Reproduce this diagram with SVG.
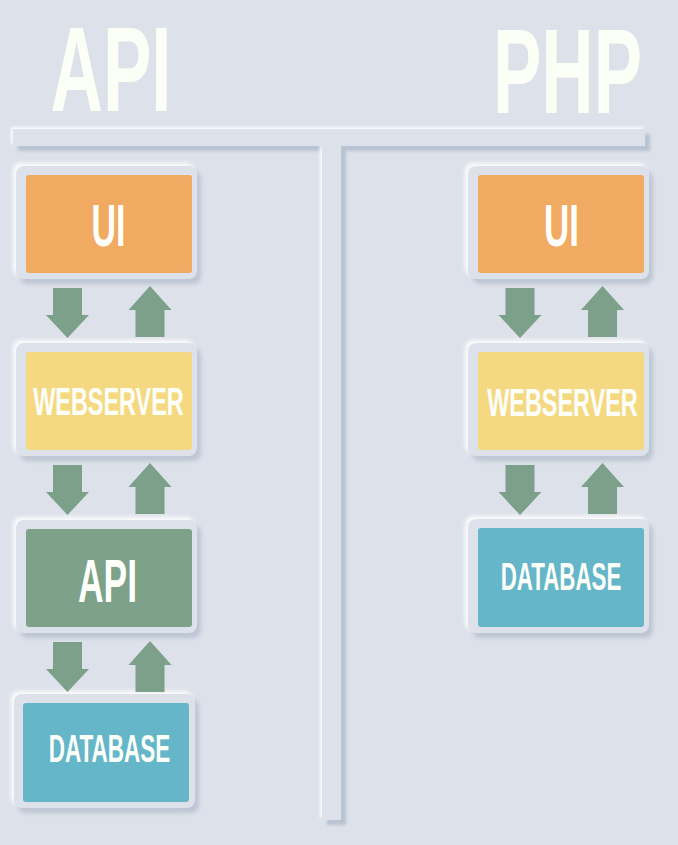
<svg xmlns="http://www.w3.org/2000/svg" width="678" height="845" viewBox="0 0 678 845">
<defs>
<filter id="neu" x="-20%" y="-20%" width="140%" height="140%">
<feGaussianBlur in="SourceAlpha" stdDeviation="2" result="b"/>
<feOffset in="b" dx="4" dy="5" result="o1"/>
<feFlood flood-color="#bcc5d3"/>
<feComposite in2="o1" operator="in" result="dark"/>
<feOffset in="b" dx="-3" dy="-3" result="o2"/>
<feFlood flood-color="#ffffff" flood-opacity="0.9"/>
<feComposite in2="o2" operator="in" result="light"/>
<feMerge><feMergeNode in="dark"/><feMergeNode in="light"/><feMergeNode in="SourceGraphic"/></feMerge>
</filter>
<filter id="neuT" x="-5%" y="-5%" width="110%" height="110%">
<feGaussianBlur in="SourceAlpha" stdDeviation="1.5" result="b"/>
<feOffset in="b" dx="5" dy="5" result="o1"/>
<feFlood flood-color="#b8c3d2"/>
<feComposite in2="o1" operator="in" result="dark"/>
<feOffset in="b" dx="-2" dy="-2" result="o2"/>
<feFlood flood-color="#ffffff" flood-opacity="0.9"/>
<feComposite in2="o2" operator="in" result="light"/>
<feMerge><feMergeNode in="dark"/><feMergeNode in="light"/><feMergeNode in="SourceGraphic"/></feMerge>
</filter>
<path id="down" d="M-14.5,0 H14.5 V27 H21.5 L0,50 L-21.5,27 H-14.5 Z"/>
<path id="up" d="M0,0 L21.5,24 H14.5 V51 H-14.5 V24 H-21.5 Z"/>
<style>
.plate{fill:#dde1ea;filter:url(#neu)}
.lbl{font-family:"Liberation Sans",Arial,sans-serif;font-weight:bold;fill:#fdfffa;text-anchor:middle}
.title{font-family:"Liberation Sans",Arial,sans-serif;font-weight:bold;fill:#fbfff6;text-anchor:middle}
.arrow{fill:#7da08a}
.ui{fill:#f0aa62}
.web{fill:#f5d982}
.api{fill:#7ea18a}
.db{fill:#65b6c8}
</style>
</defs>
<rect width="678" height="845" fill="#dde1ea"/>
<g id="divider">
<path d="M13,129 H645 V146 H341 V820 H322 V146 H13 Z" fill="#dde1ea" filter="url(#neuT)"/>
</g>
<g id="title-api"><text class="title" transform="translate(111,111) scale(0.6,1)" font-size="121">API</text></g>
<g id="title-php"><text class="title" transform="translate(567.5,113) scale(0.604,1)" font-size="120">PHP</text></g>

<g id="api-ui">
<rect class="plate" x="16" y="166" width="181" height="113" rx="8"/>
<rect class="ui" x="26" y="175" width="166" height="98" rx="3"/>
<text class="lbl" transform="translate(108.5,246) scale(0.567,1)" font-size="60">UI</text>
</g>
<g id="api-webserver">
<rect class="plate" x="16" y="343" width="181" height="113" rx="8"/>
<rect class="web" x="26" y="352" width="166" height="98" rx="3"/>
<text class="lbl" transform="translate(108.5,415) scale(0.601,1)" font-size="39">WEBSERVER</text>
</g>
<g id="api-api">
<rect class="plate" x="16" y="520" width="181" height="113" rx="8"/>
<rect class="api" x="26" y="529" width="166" height="98" rx="3"/>
<text class="lbl" transform="translate(107.5,602) scale(0.58,1)" font-size="61">API</text>
</g>
<g id="api-database">
<rect class="plate" x="14" y="694" width="181" height="114" rx="8"/>
<rect class="db" x="23" y="703" width="166" height="99" rx="3"/>
<text class="lbl" transform="translate(109.5,762) scale(0.592,1)" font-size="38">DATABASE</text>
</g>

<g id="php-ui">
<rect class="plate" x="468" y="166" width="181" height="113" rx="8"/>
<rect class="ui" x="478" y="175" width="166" height="98" rx="3"/>
<text class="lbl" transform="translate(561.5,246) scale(0.583,1)" font-size="60">UI</text>
</g>
<g id="php-webserver">
<rect class="plate" x="468" y="343" width="181" height="113" rx="8"/>
<rect class="web" x="478" y="352" width="166" height="98" rx="3"/>
<text class="lbl" transform="translate(562.5,416) scale(0.601,1)" font-size="39">WEBSERVER</text>
</g>
<g id="php-database">
<rect class="plate" x="468" y="519" width="181" height="114" rx="8"/>
<rect class="db" x="478" y="528" width="166" height="99" rx="3"/>
<text class="lbl" transform="translate(561,590) scale(0.587,1)" font-size="38">DATABASE</text>
</g>

<g id="connectors" class="arrow">
<use href="#down" x="67.5" y="288"/>
<use href="#up" x="150" y="286"/>
<use href="#down" x="67.5" y="465"/>
<use href="#up" x="150" y="463"/>
<use href="#down" x="67.5" y="642"/>
<use href="#up" x="150" y="641"/>
<use href="#down" x="520" y="288"/>
<use href="#up" x="602.5" y="286"/>
<use href="#down" x="520" y="465"/>
<use href="#up" x="602.5" y="463"/>
</g>
</svg>
